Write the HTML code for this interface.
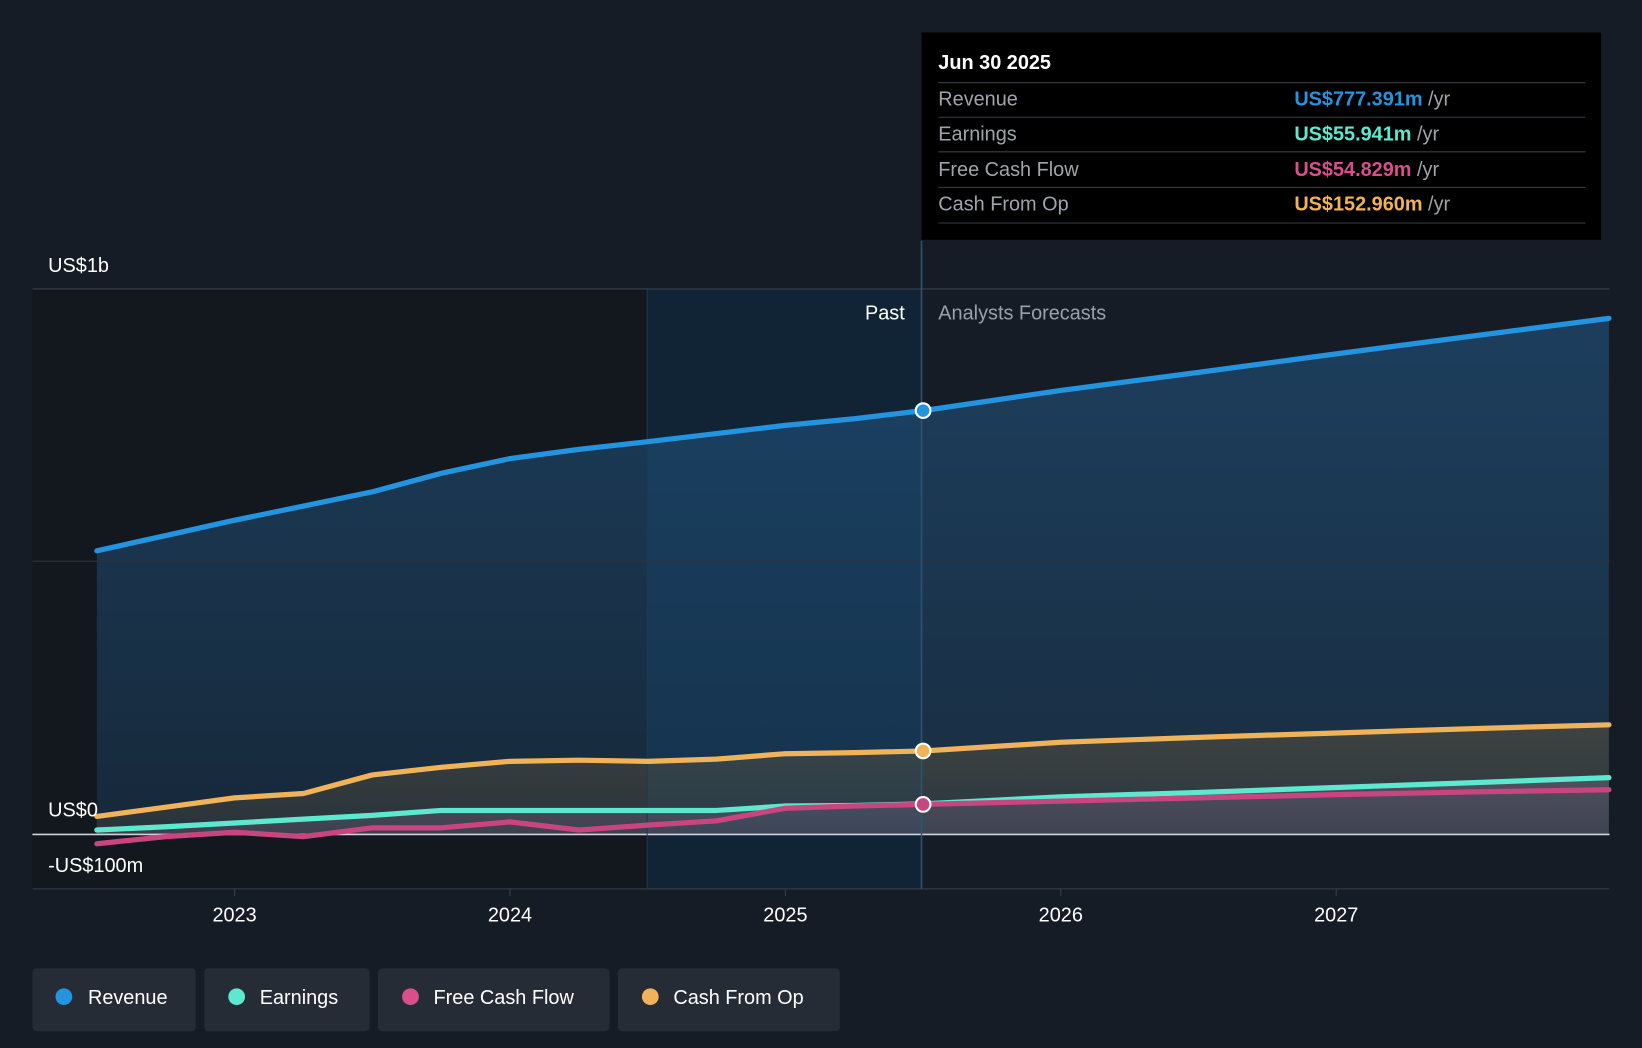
<!DOCTYPE html>
<html><head><meta charset="utf-8"><style>
html,body{margin:0;padding:0;background:#151b24;}
svg{display:block;font-family:"Liberation Sans",sans-serif;}
</style></head><body>
<svg width="1642" height="1048" viewBox="0 0 1568 1001" preserveAspectRatio="none" xmlns="http://www.w3.org/2000/svg">
<defs>
<linearGradient id="gRev" x1="0" y1="0" x2="0" y2="1"><stop offset="0" stop-color="#215683" stop-opacity="0.6"/><stop offset="1" stop-color="#215683" stop-opacity="0.28"/></linearGradient>
<linearGradient id="gCfo" x1="0" y1="0" x2="0" y2="1"><stop offset="0" stop-color="#6b5a3a" stop-opacity="0.45"/><stop offset="1" stop-color="#6b5a3a" stop-opacity="0.2"/></linearGradient>
<linearGradient id="gLow" x1="0" y1="0" x2="0" y2="1"><stop offset="0" stop-color="#7a6a8a" stop-opacity="0.4"/><stop offset="1" stop-color="#7a6a8a" stop-opacity="0.25"/></linearGradient>
</defs>
<rect width="1568" height="1001" fill="#161c25"/>
<rect x="31" y="276" width="587" height="573" fill="#13171e"/>
<rect x="618" y="276" width="262" height="573" fill="#112436"/>
<g id="areas"></g>
<line x1="31" y1="276" x2="1537" y2="276" stroke="#3a414c" stroke-width="1"/>
<line x1="31" y1="536" x2="1537" y2="536" stroke="#2c333e" stroke-width="1"/>
<line x1="31" y1="849" x2="1537" y2="849" stroke="#3a414c" stroke-width="1"/>
<line x1="31" y1="797" x2="1537" y2="797" stroke="#d0d4da" stroke-width="1.5"/>
<line x1="618" y1="276" x2="618" y2="849" stroke="#22384a" stroke-width="1"/>
<line x1="880" y1="230" x2="880" y2="849" stroke="#2f5470" stroke-width="1.5"/>
<g id="lines"></g>
<g id="ticks"></g>
<text x="46" y="260" fill="#ffffff" font-size="19">US$1b</text>
<text x="46" y="780" fill="#ffffff" font-size="19">US$0</text>
<text x="46" y="833" fill="#ffffff" font-size="19">-US$100m</text>
<text x="864" y="305" fill="#ffffff" font-size="19" text-anchor="end">Past</text>
<text x="896" y="305" fill="#9aa0a8" font-size="19">Analysts Forecasts</text>
<g>
<rect x="880" y="31" width="649" height="198" fill="#000000"/>
<text x="896" y="66" fill="#ffffff" font-size="19" font-weight="bold">Jun 30 2025</text>
<line x1="896" y1="79" x2="1514" y2="79" stroke="#3a3f46"/>
<text x="896" y="101" fill="#a0a4aa" font-size="19">Revenue</text>
<text x="1236" y="101" font-size="19"><tspan fill="#2394e0" font-weight="bold">US$777.391m</tspan><tspan fill="#a0a4aa"> /yr</tspan></text>
<line x1="896" y1="112" x2="1514" y2="112" stroke="#3a3f46"/>
<text x="896" y="134" fill="#a0a4aa" font-size="19">Earnings</text>
<text x="1236" y="134" font-size="19"><tspan fill="#5ee8cf" font-weight="bold">US$55.941m</tspan><tspan fill="#a0a4aa"> /yr</tspan></text>
<line x1="896" y1="145" x2="1514" y2="145" stroke="#3a3f46"/>
<text x="896" y="168" fill="#a0a4aa" font-size="19">Free Cash Flow</text>
<text x="1236" y="168" font-size="19"><tspan fill="#d84f8c" font-weight="bold">US$54.829m</tspan><tspan fill="#a0a4aa"> /yr</tspan></text>
<line x1="896" y1="179" x2="1514" y2="179" stroke="#3a3f46"/>
<text x="896" y="201" fill="#a0a4aa" font-size="19">Cash From Op</text>
<text x="1236" y="201" font-size="19"><tspan fill="#f0b35a" font-weight="bold">US$152.960m</tspan><tspan fill="#a0a4aa"> /yr</tspan></text>
<line x1="896" y1="213" x2="1514" y2="213" stroke="#3a3f46"/>
</g>
<g>
<g><rect x="31" y="925" width="156" height="60" rx="4" fill="#262c36"/><circle cx="61" cy="952" r="8" fill="#2394e0"/><text x="84" y="959" fill="#ffffff" font-size="19">Revenue</text></g>
<g><rect x="195" y="925" width="158" height="60" rx="4" fill="#262c36"/><circle cx="226" cy="952" r="8" fill="#5ee8cf"/><text x="248" y="959" fill="#ffffff" font-size="19">Earnings</text></g>
<g><rect x="361" y="925" width="221" height="60" rx="4" fill="#262c36"/><circle cx="392" cy="952" r="8" fill="#d84f8c"/><text x="414" y="959" fill="#ffffff" font-size="19">Free Cash Flow</text></g>
<g><rect x="590" y="925" width="212" height="60" rx="4" fill="#262c36"/><circle cx="621" cy="952" r="8" fill="#f0b35a"/><text x="643" y="959" fill="#ffffff" font-size="19">Cash From Op</text></g>
</g>
</svg>
<script>
const years=[2022.5,2022.75,2023,2023.25,2023.5,2023.75,2024,2024.25,2024.5,2024.75,2025,2025.25,2025.5,2026,2026.5,2027,2027.5,2027.99];
const revenue=[520,548,576,602,628,662,689,706,720,735,750,762,777,814,847,881,914,946];
const earnings=[8,14,21,28,35,44,44,44,44,44,52,53,56,69,77,86,95,104];
const fcf=[-17,-4,4,-4,12,12,23,8,17,25,48,52,55,61,67,73,78,82];
const cashOp=[33,50,67,75,109,123,134,136,134,138,148,150,153,169,178,186,194,201];
const tickYears=[2023,2024,2025,2026,2027];
const tickLabels=["2023","2024","2025","2026","2027"];
const NS="http://www.w3.org/2000/svg";
function xs(y){return 224+(y-2023)*263;}
function ys(v){return 797-v*0.521;}
function pts(arr){return arr.map((v,i)=>xs(years[i]).toFixed(1)+","+ys(v).toFixed(1));}
const areas=document.getElementById('areas'),lines=document.getElementById('lines'),ticks=document.getElementById('ticks');
function area(arr,fill,name){const p=document.createElementNS(NS,'polygon');
p.setAttribute('points',pts(arr).join(' ')+' '+xs(years[years.length-1])+','+ys(0)+' '+xs(years[0])+','+ys(0));
p.setAttribute('fill',fill);


areas.appendChild(p);}
area(revenue,'url(#gRev)','revenue-area');
area(cashOp,'url(#gCfo)','cash-from-op-area');
area(earnings,'url(#gLow)','earnings-area');
function line(arr,color,name){const p=document.createElementNS(NS,'polyline');
p.setAttribute('points',pts(arr).join(' '));
p.setAttribute('fill','none');p.setAttribute('stroke',color);p.setAttribute('stroke-width','5');
p.setAttribute('stroke-linejoin','round');p.setAttribute('stroke-linecap','round');


lines.appendChild(p);}
line(cashOp,'#f0b35a','cash-from-op-line');
line(earnings,'#5ee8cf','earnings-line');
line(fcf,'#c8457f','free-cash-flow-line');
line(revenue,'#2394e0','revenue-line');
const mi=years.indexOf(2025.5);
[[revenue,'#2394e0','revenue-marker'],[cashOp,'#f0b35a','cash-from-op-marker'],[fcf,'#c8457f','free-cash-flow-marker']].forEach(([a,c,n])=>{
const m=document.createElementNS(NS,'circle');
m.setAttribute('cx',xs(years[mi]));m.setAttribute('cy',ys(a[mi]));m.setAttribute('r','7');
m.setAttribute('fill',c);m.setAttribute('stroke','#ffffff');m.setAttribute('stroke-width','2');


lines.appendChild(m);});
tickYears.forEach((t,i)=>{
const l=document.createElementNS(NS,'line');
l.setAttribute('x1',xs(t));l.setAttribute('x2',xs(t));l.setAttribute('y1','849');l.setAttribute('y2','856');l.setAttribute('stroke','#3a414c');


ticks.appendChild(l);
const tx=document.createElementNS(NS,'text');
tx.setAttribute('x',xs(t));tx.setAttribute('y','880');tx.setAttribute('fill','#ffffff');tx.setAttribute('font-size','19');tx.setAttribute('text-anchor','middle');
tx.textContent=tickLabels[i];


ticks.appendChild(tx);});
</script>
</body></html>
